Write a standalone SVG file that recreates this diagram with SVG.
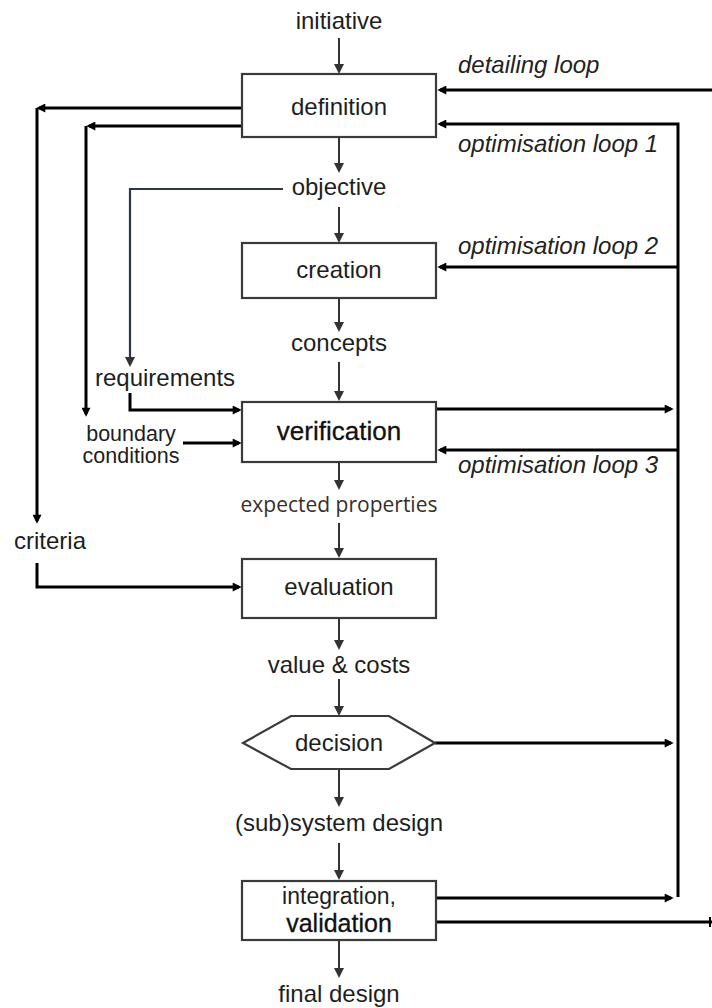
<svg xmlns="http://www.w3.org/2000/svg" width="712" height="1008" viewBox="0 0 712 1008">
  <style>
    .t { font-family: "Liberation Sans", Arial, sans-serif; font-size: 24px; fill: #1e1e1e; }
    .c { text-anchor: middle; }
    .it { font-style: italic; fill: #222; }
    .strong { font-size: 26px; fill: #111; stroke: #111; stroke-width: 0.3px; }
    .small { font-size: 21.5px; }
    .ep { font-family: "Open Sans", "Noto Sans", sans-serif; font-size: 21px; fill: #352f2b; }
    .box { fill: #fff; stroke: #3a3a3a; stroke-width: 2.2; }
    .flow { fill: none; stroke: #333; stroke-width: 2; }
    .loop { fill: none; stroke: #000; stroke-width: 3; }
    .obj { fill: none; stroke: #2f3647; stroke-width: 2.2; }
  </style>
  <defs>
    <!-- arrowheads: tip sits 3px beyond the path end -->
    <marker id="ah" viewBox="0 0 10 10" refX="7" refY="5" markerWidth="10" markerHeight="10" markerUnits="userSpaceOnUse" orient="auto">
      <path d="M0,0 L10,5 L0,10 z" fill="#333"/>
    </marker>
    <marker id="ahk" viewBox="0 0 10 10" refX="7" refY="5" markerWidth="10" markerHeight="9" markerUnits="userSpaceOnUse" orient="auto">
      <path d="M0,0 L10,5 L0,10 z" fill="#000"/>
    </marker>
  </defs>

  <!-- connectors -->
  <g id="connectors">
    <!-- main downward flow -->
    <path class="flow" d="M339,38 V71" marker-end="url(#ah)"/>
    <path class="flow" d="M339,137 V170" marker-end="url(#ah)"/>
    <path class="flow" d="M339,207 V240" marker-end="url(#ah)"/>
    <path class="flow" d="M339,298 V329" marker-end="url(#ah)"/>
    <path class="flow" d="M339,362 V398" marker-end="url(#ah)"/>
    <path class="flow" d="M339,462 V487" marker-end="url(#ah)"/>
    <path class="flow" d="M339,523 V555" marker-end="url(#ah)"/>
    <path class="flow" d="M339,618 V647" marker-end="url(#ah)"/>
    <path class="flow" d="M339,679 V713" marker-end="url(#ah)"/>
    <path class="flow" d="M339,769 V804" marker-end="url(#ah)"/>
    <path class="flow" d="M339,843 V877" marker-end="url(#ah)"/>
    <path class="flow" d="M339,940 V975" marker-end="url(#ah)"/>

    <!-- definition outputs to criteria and boundary conditions -->
    <path class="loop" d="M242,108 H39" marker-end="url(#ahk)"/>
    <path class="loop" d="M37,108 V521" marker-end="url(#ahk)"/>
    <path class="loop" d="M242,126 H89" marker-end="url(#ahk)"/>
    <path class="loop" d="M86,126 V414" marker-end="url(#ahk)"/>

    <!-- objective to requirements -->
    <path class="obj" d="M283,189 H130 V364" marker-end="url(#ah)"/>

    <!-- inputs to verification and evaluation -->
    <path class="loop" d="M130,393 V410 H239" marker-end="url(#ahk)"/>
    <path class="loop" d="M183,443 H239" marker-end="url(#ahk)"/>
    <path class="loop" d="M37,563 V587 H239" marker-end="url(#ahk)"/>

    <!-- feedback loops -->
    <path class="loop" d="M712,90 H440" marker-end="url(#ahk)"/>
    <path class="loop" d="M678,897 V124 H440" marker-end="url(#ahk)"/>
    <path class="loop" d="M678,267 H440" marker-end="url(#ahk)"/>
    <path class="loop" d="M678,450 H440" marker-end="url(#ahk)"/>
    <path class="loop" d="M436,409 H671" marker-end="url(#ahk)"/>
    <path class="loop" d="M435,743 H671" marker-end="url(#ahk)"/>
    <path class="loop" d="M436,898 H671" marker-end="url(#ahk)"/>
    <path class="loop" d="M436,922 H712"/>
    <path d="M710,917 V927" stroke="#000" stroke-width="2"/>
  </g>

  <!-- free labels -->
  <g id="labels">
    <text class="t c" x="339" y="29">initiative</text>
    <text class="t c" x="339" y="195">objective</text>
    <text class="t c" x="339" y="351">concepts</text>
    <text class="ep c" x="339" y="512">expected properties</text>
    <text class="t c" x="339" y="673">value &amp; costs</text>
    <text class="t c" x="339" y="831">(sub)system design</text>
    <text class="t c" x="339" y="1002">final design</text>
    <text class="t" x="95" y="386">requirements</text>
    <text class="t small c" x="131" y="441">boundary</text>
    <text class="t small c" x="131" y="463">conditions</text>
    <text class="t" x="14" y="549">criteria</text>
    <text class="t it" x="458" y="73">detailing loop</text>
    <text class="t it" x="458" y="152">optimisation loop 1</text>
    <text class="t it" x="458" y="254">optimisation loop 2</text>
    <text class="t it" x="458" y="473">optimisation loop 3</text>
  </g>

  <g id="definition">
    <rect class="box" x="242" y="74" width="194" height="63"/>
    <text class="t c" x="339" y="115">definition</text>
  </g>
  <g id="creation">
    <rect class="box" x="242" y="243" width="194" height="55"/>
    <text class="t c" x="339" y="278">creation</text>
  </g>
  <g id="verification">
    <rect class="box" x="242" y="402" width="194" height="60"/>
    <text class="t strong c" x="339" y="440">verification</text>
  </g>
  <g id="evaluation">
    <rect class="box" x="242" y="559" width="194" height="59"/>
    <text class="t c" x="339" y="595">evaluation</text>
  </g>
  <g id="decision">
    <polygon class="box" points="243,743 291,716 389,716 435,743 389,769 291,769"/>
    <text class="t c" x="339" y="751">decision</text>
  </g>
  <g id="integration">
    <rect class="box" x="242" y="881" width="194" height="59"/>
    <text class="t c" x="339" y="904" style="font-size:23px">integration,</text>
    <text class="t strong c" x="339" y="932" style="font-size:25px">validation</text>
  </g>
</svg>
